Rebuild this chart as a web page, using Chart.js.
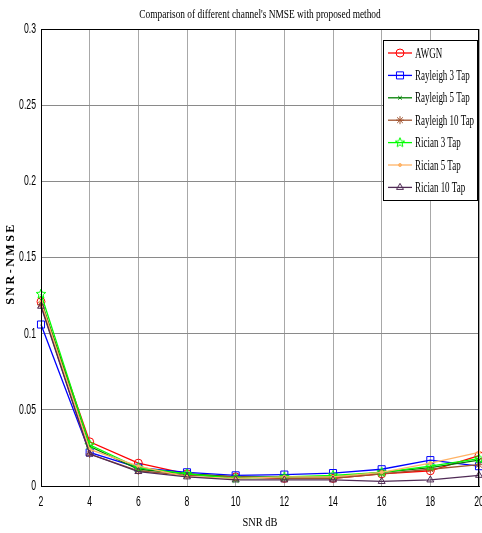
<!DOCTYPE html>
<html>
<head>
<meta charset="utf-8">
<script src="https://cdn.jsdelivr.net/npm/chart.js@4.4.1/dist/chart.umd.min.js"></script>
<style>
  body { margin: 0; background: #fff; }
  canvas { display: block; }
</style>
</head>
<body>
<canvas id="nmse-chart" width="482" height="533"></canvas>
<script>
// SNR points (dB) and y ticks
var snrDb = [2, 4, 6, 8, 10, 12, 14, 16, 18, 20];
var yTicks = [0, 0.05, 0.1, 0.15, 0.2, 0.25, 0.3];

var channelNames = ['AWGN', 'Rayleigh 3 Tap', 'Rayleigh 5 Tap', 'Rayleigh 10 Tap',
                    'Rician 3 Tap', 'Rician 5 Tap', 'Rician 10 Tap'];

// NMSE per channel at each SNR
var awgn       = [0.121, 0.029, 0.015, 0.008, 0.006, 0.005, 0.005, 0.008, 0.010, 0.020];
var rayleigh3  = [0.106, 0.022, 0.012, 0.009, 0.007, 0.0075, 0.0085, 0.011, 0.017, 0.013];
var rayleigh5  = [0.122, 0.026, 0.011, 0.008, 0.006, 0.006, 0.006, 0.009, 0.012, 0.017];
var rayleigh10 = [0.119, 0.021, 0.010, 0.007, 0.006, 0.005, 0.005, 0.008, 0.011, 0.014];
var rician3    = [0.126, 0.027, 0.012, 0.008, 0.005, 0.006, 0.007, 0.009, 0.013, 0.018];
var rician5    = [0.121, 0.024, 0.013, 0.006, 0.005, 0.006, 0.006, 0.009, 0.015, 0.022];
var rician10   = [0.118, 0.021, 0.0095, 0.006, 0.004, 0.004, 0.004, 0.003, 0.004, 0.007];

var seriesValues = [awgn, rayleigh3, rayleigh5, rayleigh10, rician3, rician5, rician10];
var seriesColors = ['#ff0000', '#0000ff', '#007f00', '#a0522d', '#00ff00', '#ffb366', '#4f2a55'];

// hollow five point star (matlab 'p' marker)
function pentagram(color) {
    var c = document.createElement('canvas');
    c.width = 12; c.height = 12;
    var g = c.getContext('2d');
    g.strokeStyle = color;
    g.lineWidth = 1;
    g.beginPath();
    for (var k = 0; k < 10; k++) {
        var r = k % 2 ? 2.2 : 5;
        var a = -Math.PI / 2 + k * Math.PI / 5;
        var px = 6 + r * Math.cos(a), py = 6 + r * Math.sin(a);
        if (k) g.lineTo(px, py); else g.moveTo(px, py);
    }
    g.closePath();
    g.stroke();
    return c;
}

var markerStyles = ['circle', 'rect', 'crossRot', 'star', pentagram(seriesColors[4]), 'circle', 'triangle'];
var markerSizes = [4, 5, 2.5, 4, 6, 1.5, 4];
var markerFill = ['rgba(0,0,0,0)', 'rgba(0,0,0,0)', 'rgba(0,0,0,0)', seriesColors[3],
                  'rgba(0,0,0,0)', seriesColors[5], 'rgba(0,0,0,0)'];

var datasets = seriesValues.map(function (vals, i) {
    return {
        label: channelNames[i],
        data: vals.map(function (v, j) { return { x: snrDb[j], y: v }; }),
        borderColor: seriesColors[i],
        backgroundColor: seriesColors[i],
        borderWidth: 1.3,
        pointStyle: markerStyles[i],
        pointRadius: markerSizes[i],
        pointBorderWidth: 1,
        pointBackgroundColor: markerFill[i],
        pointBorderColor: seriesColors[i],
        tension: 0,
        clip: false,
        order: 7 - i   // later series on top
    };
});

// draw condensed text
function squeeze(ctx, text, x, y, sx, align) {
    ctx.save();
    ctx.translate(x, y);
    ctx.scale(sx, 1);
    ctx.textAlign = align || 'center';
    ctx.fillText(text, 0, 0);
    ctx.restore();
}

var framePlugin = {
    id: 'frame',
    afterDraw: function (chart) {
        var ctx = chart.ctx, a = chart.chartArea;
        var xs = chart.scales.x, ys = chart.scales.y;
        var midX = (a.left + a.right) / 2;
        ctx.save();
        // box round the axes
        ctx.strokeStyle = '#000';
        ctx.lineWidth = 1;
        ctx.strokeRect(a.left + 0.5, a.top + 0.5, a.right - a.left - 1, a.bottom - a.top);

        // tick labels, narrow
        ctx.fillStyle = '#000';
        ctx.textBaseline = 'middle';
        ctx.font = '14px "Liberation Sans", Arial, sans-serif';
        xs.ticks.forEach(function (t) {
            squeeze(ctx, String(t.value), xs.getPixelForValue(t.value), a.bottom + 16, 0.62);
        });
        ys.ticks.forEach(function (t) {
            squeeze(ctx, String(t.value), a.left - 5, ys.getPixelForValue(t.value), 0.62, 'right');
        });

        ctx.font = '12px "Liberation Serif", serif';
        squeeze(ctx, "Comparison of different channel's NMSE with proposed method", midX, 15, 0.78);
        ctx.font = '13px "Liberation Serif", serif';
        squeeze(ctx, 'SNR dB', midX, 523, 0.8);

        ctx.save();
        ctx.translate(11, (a.top + a.bottom) / 2 + 6);
        ctx.rotate(-Math.PI / 2);
        ctx.font = 'bold 12px "Liberation Serif", serif';
        ctx.letterSpacing = '2.5px';
        ctx.textAlign = 'center';
        ctx.fillText('SNR-NMSE', 0, 0);
        ctx.restore();

        // legend
        var bw = 94, bh = 160;
        var bx = a.right - bw - 2, by = a.top + 11;
        ctx.fillStyle = '#fff';
        ctx.fillRect(bx, by, bw, bh);
        ctx.strokeRect(bx + 0.5, by + 0.5, bw, bh);
        chart.data.datasets.forEach(function (ds, i) {
            var ry = by + 13 + i * 22.4;
            ctx.strokeStyle = ds.borderColor;
            ctx.lineWidth = 1.3;
            ctx.beginPath();
            ctx.moveTo(bx + 5, ry);
            ctx.lineTo(bx + 29, ry);
            ctx.stroke();
            ctx.lineWidth = 1;
            ctx.fillStyle = ds.pointBackgroundColor;
            Chart.helpers.drawPoint(ctx, {
                pointStyle: ds.pointStyle, radius: ds.pointRadius,
                rotation: 0, borderWidth: 1
            }, bx + 17, ry);
            ctx.fillStyle = '#000';
            ctx.font = '14px "Liberation Serif", serif';
            squeeze(ctx, ds.label, bx + 32, ry + 1, 0.64, 'left');
        });
        ctx.restore();
    }
};

new Chart(document.getElementById('nmse-chart'), {
    type: 'line',
    data: { datasets: datasets },
    options: {
        responsive: false,
        animation: false,
        layout: { autoPadding: false, padding: { top: 29, right: 3, left: 0, bottom: 0 } },
        plugins: { legend: { display: false }, title: { display: false }, tooltip: { enabled: false } },
        scales: {
            x: {
                type: 'linear',
                min: 2, max: 20,
                ticks: { stepSize: 2, display: false },
                grid: { color: '#a8a8a8', drawTicks: false },
                border: { color: '#000' },
                afterFit: function (s) { s.height = 47; s.paddingLeft = 0; s.paddingRight = 0; }
            },
            y: {
                min: 0, max: 0.3,
                afterBuildTicks: function (s) { s.ticks = yTicks.map(function (v) { return { value: v }; }); },
                ticks: { display: false },
                grid: { color: '#8a8a8a', drawTicks: false },
                border: { color: '#000' },
                afterFit: function (s) { s.width = 41; s.paddingTop = 0; s.paddingBottom = 0; }
            }
        }
    },
    plugins: [framePlugin]
});
</script>
</body>
</html>
